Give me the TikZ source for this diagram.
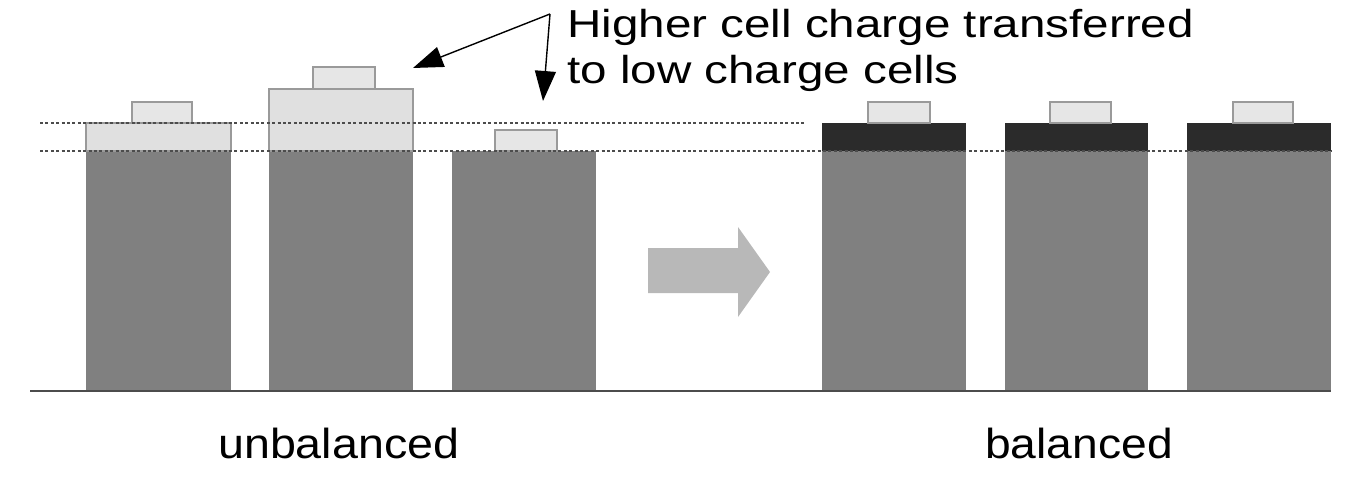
\documentclass[tikz,border=0pt]{standalone}
\usepackage{fontspec}
\setmainfont{Liberation Sans}
\usetikzlibrary{arrows.meta}
\definecolor{body}{HTML}{808080}
\definecolor{extra}{HTML}{E0E0E0}
\definecolor{edge}{HTML}{9A9A9A}
\definecolor{topdark}{HTML}{2B2B2B}
\definecolor{bigarrow}{HTML}{B8B8B8}
\tikzset{
  bodyrect/.style={fill=body},
  extrarect/.style={fill=extra, draw=edge, line width=1.2pt},
  caprect/.style={fill=extra!80!white, draw=edge, line width=1.2pt},
  darkrect/.style={fill=topdark},
  levelline/.style={draw=black!70, line width=2pt, dash pattern=on 3pt off 2.4pt},
  pointer/.style={draw=black, line width=1.4pt, -{Triangle[length=30pt,width=21pt]}},
  toptext/.style={anchor=base west, inner sep=0pt, font=\fontsize{39}{46}\selectfont},
  bottext/.style={anchor=base west, inner sep=0pt, font=\fontsize{42}{50}\selectfont},
}
\begin{document}
\begin{tikzpicture}[x=1pt,y=-1pt]
\useasboundingbox (0,0) rectangle (1364,489);
% unbalanced cells
\fill[bodyrect] (86,151) rectangle (231,391);
\draw[extrarect] (86,123) rectangle (231,151);
\draw[caprect] (132,102) rectangle (192,123);
\fill[bodyrect] (269,151) rectangle (413,391);
\draw[extrarect] (269,89) rectangle (413,151);
\draw[caprect] (313,67) rectangle (375,89);
\fill[bodyrect] (452,151) rectangle (596,391);
\draw[caprect] (495,130) rectangle (557,151);
% balanced cells
\fill[bodyrect] (822,151) rectangle (966,391);
\fill[darkrect] (822,123) rectangle (966,151);
\draw[caprect] (868,102) rectangle (930,123);
\fill[bodyrect] (1005,151) rectangle (1148,391);
\fill[darkrect] (1005,123) rectangle (1148,151);
\draw[caprect] (1050,102) rectangle (1111,123);
\fill[bodyrect] (1187,151) rectangle (1331,391);
\fill[darkrect] (1187,123) rectangle (1331,151);
\draw[caprect] (1233,102) rectangle (1293,123);
% level lines
\draw[levelline] (40,123) -- (805,123);
\draw[levelline] (40,151) -- (1331,151);
% baseline
\draw[draw=black!70, line width=2pt] (30,391) -- (1331,391);
% big arrow
\fill[bigarrow] (648,248) -- (738,248) -- (738,227) -- (770,272) -- (738,317) -- (738,293) -- (648,293) -- cycle;
% text
\node[toptext] (l1) at (567,37.5) {\scalebox{1.22}[1]{Higher cell charge transferred}};
\node[toptext] (l2) at (567,84) {\scalebox{1.22}[1]{to low charge cells}};
\node[bottext] (unb) at (218,458) {\scalebox{1.11}[1]{unbalanced}};
\node[bottext] (bal) at (985,458) {\scalebox{1.1}[1]{balanced}};
% pointers
\coordinate (src) at (550,14);
\coordinate (tipA) at (413,68);
\coordinate (tipB) at (543,101);
\draw[pointer] (src) -- (tipA);
\draw[pointer] (src) -- (tipB);
\end{tikzpicture}
\end{document}
